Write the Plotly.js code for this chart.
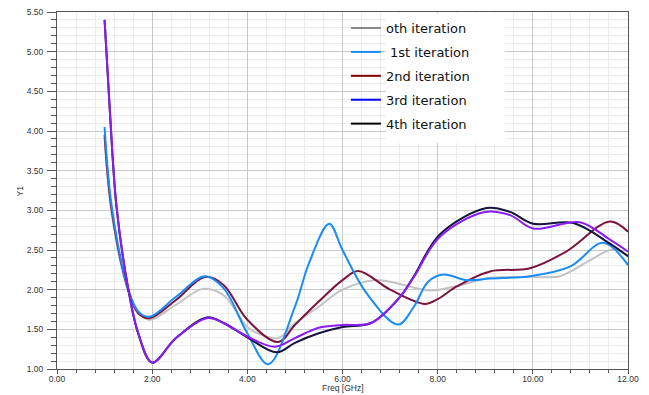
<!DOCTYPE html>
<html><head><meta charset="utf-8">
<script src="https://cdn.plot.ly/plotly-3.0.1.min.js"></script>
<style>html,body{margin:0;padding:0;background:#fff}#chart{width:649px;height:395px}</style>
</head><body><div id="chart"></div>
<script>
const seriesNames = ['oth iteration', ' 1st iteration', '2nd iteration', '3rd iteration', '4th iteration'];
const lineColors = ['#c3c3c3', '#1a8cf5', '#7d1440', '#8a1cf5', '#14143c'];
const legendColors = ['#888888', '#1a8cf5', '#800000', '#0000ff', '#000000'];

const freq0 = [1.0, 1.15, 1.5, 1.75, 1.95, 2.5, 3.07, 3.5, 4.0, 4.3, 4.65, 5.0, 5.5, 6.0, 6.65, 7.0, 7.84, 8.5, 9.1, 10.0, 10.57, 11.2, 11.69, 12.0];
const y0 = [3.92, 2.95, 1.98, 1.70, 1.62, 1.81, 2.01, 1.93, 1.53, 1.43, 1.39, 1.575, 1.785, 2.0, 2.12, 2.10, 1.99, 2.06, 2.15, 2.16, 2.17, 2.37, 2.51, 2.43];

const freq1 = [1.0, 1.15, 1.5, 1.71, 1.95, 2.5, 3.11, 3.5, 4.0, 4.44, 5.0, 5.3, 5.72, 6.0, 6.5, 7.17, 7.5, 7.8, 8.12, 8.61, 9.1, 9.94, 10.78, 11.48, 12.0];
const y1 = [4.05, 3.05, 2.0, 1.72, 1.66, 1.91, 2.17, 2.02, 1.45, 1.06, 1.785, 2.34, 2.83, 2.5, 1.96, 1.56, 1.785, 2.10, 2.19, 2.12, 2.14, 2.17, 2.29, 2.59, 2.31];

const freq2 = [1.0, 1.15, 1.5, 1.71, 1.95, 2.5, 3.11, 3.5, 4.0, 4.65, 5.0, 5.5, 6.0, 6.33, 7.0, 7.73, 8.0, 8.4, 9.1, 9.94, 10.7, 11.62, 12.0];
const y2 = [3.95, 3.0, 1.99, 1.70, 1.64, 1.87, 2.16, 2.06, 1.62, 1.34, 1.555, 1.85, 2.12, 2.235, 2.0, 1.82, 1.88, 2.04, 2.23, 2.27, 2.48, 2.86, 2.73];

const freq3 = [1.0, 1.11, 1.25, 1.5, 1.71, 2.0, 2.5, 3.15, 3.5, 4.0, 4.58, 5.0, 5.5, 6.0, 6.6, 7.21, 7.5, 8.05, 8.99, 9.52, 10.01, 10.99, 11.62, 12.0];
const y3 = [5.40, 4.26, 3.05, 2.0, 1.45, 1.08, 1.39, 1.64, 1.58, 1.41, 1.28, 1.39, 1.52, 1.555, 1.58, 1.91, 2.16, 2.67, 2.98, 2.94, 2.77, 2.85, 2.63, 2.48];

const freq4 = [1.0, 1.11, 1.25, 1.5, 1.71, 2.0, 2.5, 3.15, 3.5, 4.0, 4.62, 5.0, 5.5, 6.0, 6.6, 7.21, 7.5, 8.05, 9.03, 9.52, 10.01, 10.85, 11.62, 12.0];
const y4 = [5.40, 4.26, 3.05, 2.0, 1.44, 1.08, 1.39, 1.65, 1.58, 1.40, 1.21, 1.33, 1.45, 1.53, 1.58, 1.91, 2.17, 2.70, 3.03, 2.98, 2.83, 2.84, 2.58, 2.42];

const xs = [freq0, freq1, freq2, freq3, freq4];
const ys = [y0, y1, y2, y3, y4];
const drawOrder = [0, 2, 1, 4, 3];

const traces = [];
drawOrder.forEach(i => {
  traces.push({
    x: xs[i], y: ys[i], type: 'scatter', mode: 'lines',
    line: {color: lineColors[i], width: 2, shape: 'spline', smoothing: 1},
    name: seriesNames[i], showlegend: false, hoverinfo: 'skip'
  });
});
seriesNames.forEach((n, i) => {
  traces.push({
    x: [null], y: [null], type: 'scatter', mode: 'lines',
    line: {color: legendColors[i], width: 2},
    name: n, showlegend: true, legendgroup: 'g' + i
  });
});

const tickFont = {family: 'Liberation Sans, Arial, sans-serif', size: 8.5, color: '#333'};
const layout = {
  width: 649, height: 395,
  margin: {l: 57, r: 21, t: 12, b: 26},
  paper_bgcolor: '#fff', plot_bgcolor: '#fff',
  showlegend: true,
  legend: {
    x: 0.506, y: 0.997, xanchor: 'left', yanchor: 'top',
    bgcolor: 'rgba(0,0,0,0)', borderwidth: 0,
    font: {family: 'DejaVu Sans, sans-serif', size: 13, color: '#111'},
    traceorder: 'grouped', tracegroupgap: 4
  },
  xaxis: {
    range: [0, 12], dtick: 2, tick0: 0, tickformat: '.2f',
    showline: true, linecolor: '#555', linewidth: 1, mirror: true,
    ticks: 'outside', ticklen: 4, tickcolor: '#555',
    showgrid: true, gridcolor: '#c9c9c9', gridwidth: 1, zeroline: false,
    tickfont: tickFont, ticklabelstandoff: -2,
    minor: {dtick: 0.4, ticks: 'outside', ticklen: 3, tickcolor: '#555', showgrid: true, gridcolor: '#ececec'}
  },
  yaxis: {
    range: [1, 5.5], dtick: 0.5, tick0: 1, tickformat: '.2f',
    showline: true, linecolor: '#555', linewidth: 1, mirror: true,
    ticks: 'outside', ticklen: 9, tickcolor: '#555',
    showgrid: true, gridcolor: '#c9c9c9', gridwidth: 1, zeroline: false,
    tickfont: tickFont, ticklabelstandoff: 2,
    minor: {dtick: 0.1, ticks: 'outside', ticklen: 5, tickcolor: '#555', showgrid: true, gridcolor: '#ececec'}
  },
  shapes: [{
    type: 'rect', xref: 'paper', yref: 'paper', x0: 0.576, x1: 0.785, y0: 0.633, y1: 0.996,
    fillcolor: '#ffffff', line: {width: 0}, layer: 'above'
  }],
  annotations: [
    {text: 'Freq [GHz]', xref: 'paper', yref: 'paper', x: 0.5, y: -0.054, xanchor: 'center', yanchor: 'middle',
     showarrow: false, font: {family: 'Liberation Sans, Arial, sans-serif', size: 8.5, color: '#333'}},
    {text: 'Y1', xref: 'paper', yref: 'paper', x: -0.065, y: 0.5, xanchor: 'center', yanchor: 'middle',
     textangle: -90, showarrow: false, font: {family: 'Liberation Sans, Arial, sans-serif', size: 8.5, color: '#333'}}
  ]
};
Plotly.newPlot('chart', traces, layout, {displayModeBar: false, staticPlot: true});
</script>
</body></html>
